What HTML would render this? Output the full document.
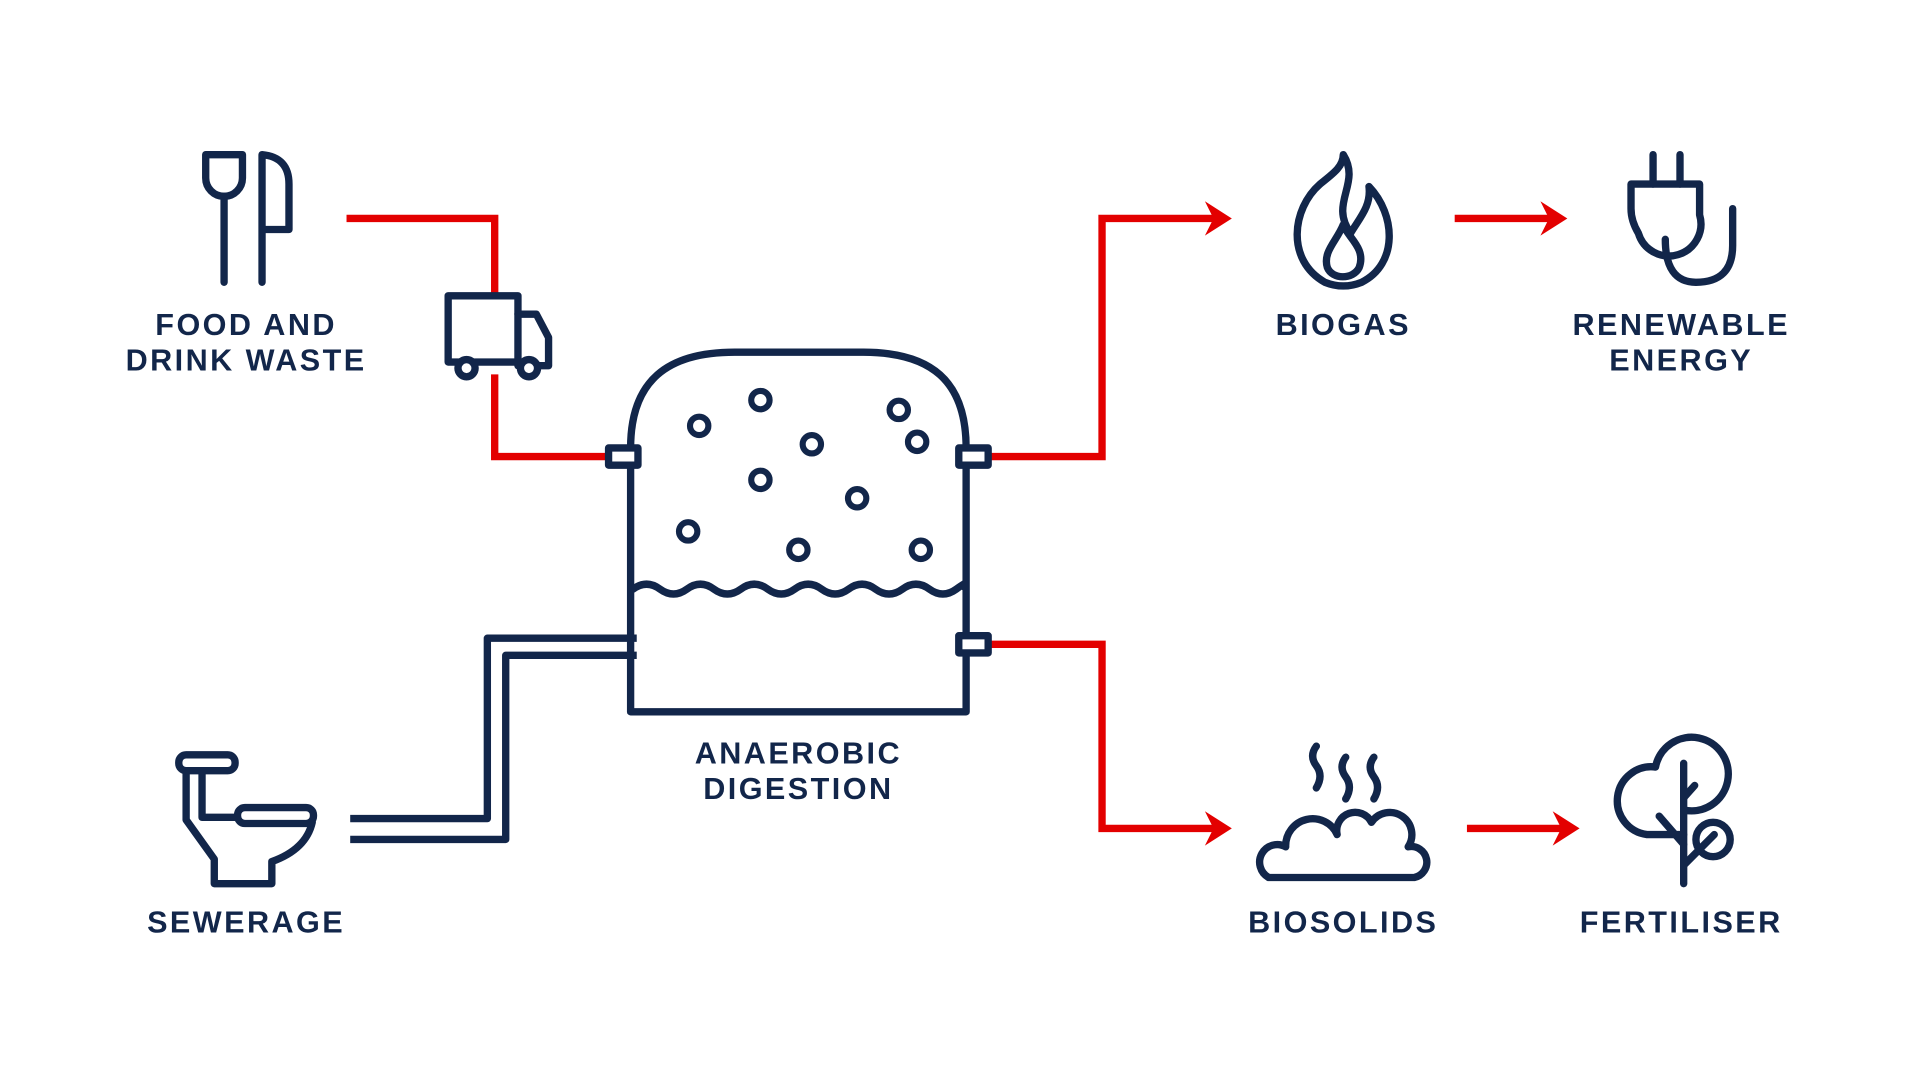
<!DOCTYPE html>
<html><head><meta charset="utf-8"><style>
html,body{margin:0;padding:0;background:#fff;}
svg{display:block;}
text{font-family:"Liberation Sans",sans-serif;font-weight:bold;fill:#12264a;font-size:25px;letter-spacing:2px;text-anchor:middle;}
</style></head><body>
<svg width="1920" height="1080" viewBox="0 0 1568 880" preserveAspectRatio="none" xmlns="http://www.w3.org/2000/svg">
<g fill="none" stroke="#e30000" stroke-width="6">
 <path d="M283 178 H404 V240"/>
 <path d="M404 305 V372 H497"/>
 <path d="M807 372 H900 V178 H998"/>
 <path d="M807 525 H900 V675 H998"/>
 <path d="M1188 178 H1270"/>
 <path d="M1198 675 H1280"/>
</g>
<g fill="#e30000">
 <path d="M984 164 L1006 178 L984 192 L991 178Z"/>
 <path d="M984 661 L1006 675 L984 689 L991 675Z"/>
 <path d="M1258 164 L1280 178 L1258 192 L1265 178Z"/>
 <path d="M1268 661 L1290 675 L1268 689 L1275 675Z"/>
</g>
<g fill="none" stroke="#12264a" stroke-width="6" stroke-linecap="round" stroke-linejoin="round">
 <path d="M183 230 V160"/>
 <path d="M168 126 V145 A15 15 0 0 0 198 145 V126 Z"/>
 <path d="M214 230 V126 Q236 128 236 150 V187 H214"/>
 <rect x="366" y="241" width="57" height="54" stroke-linecap="butt"/>
 <path d="M423 256 H438 L448 275 V298 H423"/>
 <circle cx="381" cy="300" r="7" fill="#fff"/>
 <circle cx="432" cy="300" r="7" fill="#fff"/>
 <path d="M515 365 V580 H789 V365" stroke-linecap="butt"/>
 <path d="M515 365 C515 310 545 287 600 287 H705 C760 287 789 310 789 365"/>
 <path d="M517 480 q11 -8 22 0 t22 0 t22 0 t22 0 t22 0 t22 0 t22 0 t22 0 t22 0 t22 0 t22 0 t22 0 t6 -2"/>
 <rect x="497" y="365" width="24" height="14" fill="#fff" stroke-linecap="butt"/>
 <rect x="783" y="365" width="24" height="14" fill="#fff" stroke-linecap="butt"/>
 <rect x="783" y="518" width="24" height="14" fill="#fff" stroke-linecap="butt"/>
 <g stroke-width="5">
 <circle cx="571" cy="347" r="7.5"/><circle cx="621" cy="326" r="7.5"/><circle cx="663" cy="362" r="7.5"/>
 <circle cx="734" cy="334" r="7.5"/><circle cx="749" cy="360" r="7.5"/><circle cx="621" cy="391" r="7.5"/>
 <circle cx="700" cy="406" r="7.5"/><circle cx="562" cy="433" r="7.5"/><circle cx="652" cy="448" r="7.5"/>
 <circle cx="752" cy="448" r="7.5"/>
 </g>
 <path d="M286 667 H398 V520 H520" stroke-linecap="butt"/>
 <path d="M286 684 H413 V534 H520" stroke-linecap="butt"/>
 <rect x="146" y="615" width="46" height="13" rx="6"/>
 <path d="M152 628 V668 L175 700 V720 H222 V702 Q250 692 255 670"/>
 <rect x="194" y="658" width="62" height="13" rx="6"/>
 <path d="M165 628 V666 H194"/>
 <path d="M1097 126 C1112 150 1085 165 1103 190 C1110 178 1120 168 1118 152 C1140 175 1142 215 1112 230 C1102 234 1092 234 1082 230 C1050 212 1055 170 1078 150 C1088 142 1097 136 1097 126Z"/>
 <path d="M1097 183 C1100 193 1116 202 1110 218 C1105 228 1088 228 1084 218 C1080 205 1092 196 1097 183Z"/>
 <path d="M1350 126 V150 M1372 126 V150"/>
 <path d="M1332 150 H1388 V175 A25 25 0 0 1 1338 190 Q1332 180 1332 170 Z"/>
 <path d="M1360 195 Q1360 230 1385 230 Q1415 230 1415 200 V170"/>
 <path d="M1036 715 H1155 A12 12 0 0 0 1150 690 A18 18 0 0 0 1120 670 A15 15 0 0 0 1092 680 A22 22 0 0 0 1050 690 A12 12 0 0 0 1036 715Z"/>
 <path d="M1075 608 q-6 8 0 16 t0 18"/>
 <path d="M1099 617 q-6 8 0 16 t0 18"/>
 <path d="M1122 617 q-6 8 0 16 t0 18"/>
 <path d="M1375 622 V720"/>
 <path d="M1375 650 L1384 640 M1375 688 L1355 665"/>
 <path d="M1375 660 A30 30 0 1 0 1352 625 A22 22 0 0 0 1345 680 H1375"/>
 <circle cx="1399" cy="684" r="14"/>
 <path d="M1375 705 L1400 680"/>
</g>
<text x="201" y="273">FOOD AND</text>
<text x="201" y="302">DRINK WASTE</text>
<text x="1097" y="273">BIOGAS</text>
<text x="1373" y="273">RENEWABLE</text>
<text x="1373" y="302">ENERGY</text>
<text x="652" y="622">ANAEROBIC</text>
<text x="652" y="651">DIGESTION</text>
<text x="201" y="760">SEWERAGE</text>
<text x="1097" y="760">BIOSOLIDS</text>
<text x="1373" y="760">FERTILISER</text>
</svg>
</body></html>
